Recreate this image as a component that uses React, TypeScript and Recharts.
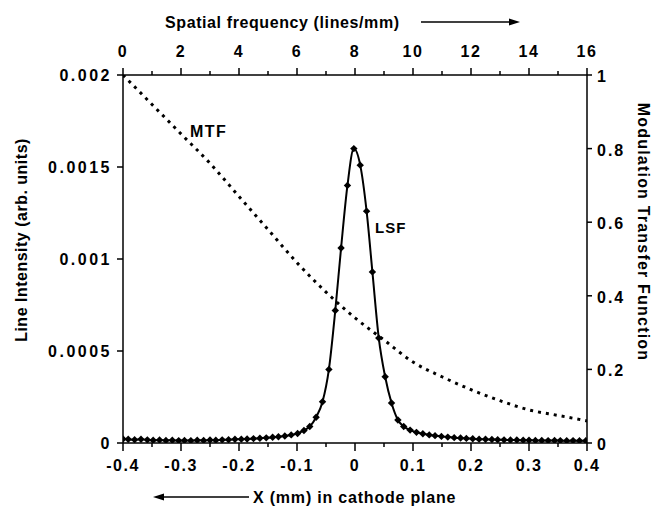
import { ComposedChart, Line, XAxis, YAxis } from 'recharts';

const FONT = '"Liberation Sans", Arial, Helvetica, sans-serif';

// LSF samples: position in cathode plane (mm) and line intensity
const lsfX = [
  -0.4, -0.391, -0.38, -0.369, -0.358, -0.348, -0.337, -0.326, -0.315, -0.304,
  -0.294, -0.283, -0.272, -0.261, -0.25, -0.24, -0.229, -0.218, -0.207, -0.196,
  -0.186, -0.175, -0.164, -0.153, -0.142, -0.132, -0.121, -0.11, -0.099, -0.088,
  -0.078, -0.067, -0.056, -0.045, -0.034, -0.024, -0.013,
  -0.002,
  0.009, 0.02, 0.03, 0.041, 0.052, 0.063, 0.074, 0.084, 0.095,
  0.106, 0.117, 0.128, 0.138, 0.149, 0.16, 0.171, 0.182, 0.192, 0.203,
  0.214, 0.225, 0.236, 0.246, 0.257, 0.268, 0.279, 0.29, 0.3, 0.311,
  0.322, 0.333, 0.344, 0.354, 0.365, 0.376, 0.387, 0.398,
];
const lsfY = [
  0.000022, 0.00002, 0.000018, 0.00002, 0.000017, 0.000015, 0.000016, 0.000014, 0.000015, 0.000013,
  0.000014, 0.000013, 0.000015, 0.000014, 0.000016, 0.000015, 0.000017, 0.000018, 0.00002, 0.000021,
  0.000022, 0.000024, 0.000026, 0.000028, 0.000031, 0.000034, 0.000038, 0.000044, 0.000052, 0.000068,
  0.00009, 0.00014, 0.000224, 0.0004, 0.00072, 0.00106, 0.0014,
  0.0016,
  0.00151, 0.00126, 0.00093, 0.00057, 0.00036, 0.000217, 0.000125, 0.00009, 0.00007,
  0.000058, 0.00005, 0.000044, 0.00004, 0.000036, 0.000032, 0.000029, 0.000027, 0.000025, 0.000023,
  0.000021, 0.00002, 0.000019, 0.000018, 0.000017, 0.000016, 0.000016, 0.000015, 0.000015, 0.000014,
  0.000014, 0.000013, 0.000014, 0.000013, 0.000012, 0.000013, 0.000012, 0.000012,
];

// MTF vs spatial frequency (lines/mm)
const mtfFreq = [0, 1, 2, 3, 4, 5, 6, 7, 8, 9, 10, 11, 12, 13, 14, 15, 16];
const mtfValue = [1, 0.92, 0.84, 0.76, 0.67, 0.58, 0.49, 0.41, 0.34, 0.28, 0.22, 0.18, 0.145, 0.115, 0.09, 0.075, 0.06];

const xTicks = [-0.4, -0.35, -0.3, -0.25, -0.2, -0.15, -0.1, -0.05, 0, 0.05, 0.1, 0.15, 0.2, 0.25, 0.3, 0.35, 0.4];
const freqTicks = [0, 1, 2, 3, 4, 5, 6, 7, 8, 9, 10, 11, 12, 13, 14, 15, 16];
const lsfTicks = [0, 0.0005, 0.001, 0.0015, 0.002];
const mtfTicks = [0, 0.2, 0.4, 0.6, 0.8, 1];

const lsfData = lsfX.map((x, i) => ({ x, lsf: lsfY[i] }));
const mtfData = mtfFreq.map((f, i) => ({ f, mtf: mtfValue[i] }));

const txt = { fontFamily: FONT, fontWeight: 700, fontSize: 16, fill: '#000' } as const;

const BottomTick = ({ x, y, payload }: any) => {
  const v = payload.value;
  const major = Math.abs(v * 10 - Math.round(v * 10)) < 1e-6;
  return (
    <g>
      <line x1={x} x2={x} y1={y} y2={y + (major ? 8 : 4)} stroke="#000" strokeWidth={1.5} />
      {major && (
        <text x={x} y={y + 28} textAnchor="middle" {...txt} letterSpacing={1.5}>
          {String(+v.toFixed(1))}
        </text>
      )}
    </g>
  );
};

const TopTick = ({ x, y, payload }: any) => {
  const v = payload.value;
  const major = v % 2 === 0;
  return (
    <g>
      <line x1={x} x2={x} y1={y} y2={y - (major ? 7 : 4)} stroke="#000" strokeWidth={1.5} />
      {major && (
        <text x={x} y={y - 18} textAnchor="middle" {...txt} letterSpacing={1.5}>
          {String(v)}
        </text>
      )}
    </g>
  );
};

const LeftTick = ({ x, y, payload }: any) => (
  <g>
    <line x1={x - 6} x2={x} y1={y} y2={y} stroke="#000" strokeWidth={1.5} />
    <text x={x - 11} y={y + 6} textAnchor="end" {...txt} letterSpacing={2.5}>
      {String(payload.value)}
    </text>
  </g>
);

const RightTick = ({ x, y, payload }: any) => (
  <g>
    <line x1={x} x2={x + 5} y1={y} y2={y} stroke="#000" strokeWidth={1.5} />
    <text x={x + 10} y={y + 7} textAnchor="start" {...txt} letterSpacing={2}>
      {String(payload.value)}
    </text>
  </g>
);

const Diamond = ({ cx, cy }: any) => {
  if (cx == null || cy == null) return null;
  const r = 3.7;
  return <polygon points={`${cx},${cy - r} ${cx + r},${cy} ${cx},${cy + r} ${cx - r},${cy}`} fill="#000" />;
};

export default function App() {
  return (
    <div style={{ position: 'absolute', left: 0, top: 0, width: 653, height: 508, background: '#fff' }}>
      <ComposedChart width={653} height={508} margin={{ top: 0, right: 0, bottom: 0, left: 0 }}>
        <XAxis
          xAxisId="x"
          dataKey="x"
          type="number"
          domain={[-0.4, 0.4]}
          ticks={xTicks}
          interval={0}
          orientation="bottom"
          height={65}
          tickSize={0}
          tickMargin={0}
          tickLine={false}
          tick={<BottomTick />}
          axisLine={{ stroke: '#000', strokeWidth: 1.5 }}
          allowDataOverflow
        />
        <XAxis
          xAxisId="f"
          dataKey="f"
          type="number"
          domain={[0, 16]}
          ticks={freqTicks}
          interval={0}
          orientation="top"
          height={75}
          tickSize={0}
          tickMargin={0}
          tickLine={false}
          tick={<TopTick />}
          axisLine={{ stroke: '#000', strokeWidth: 1.5 }}
          allowDataOverflow
        />
        <YAxis
          yAxisId="lsf"
          type="number"
          domain={[0, 0.002]}
          ticks={lsfTicks}
          interval={0}
          orientation="left"
          width={123}
          tickSize={0}
          tickMargin={0}
          tickLine={false}
          tick={<LeftTick />}
          axisLine={{ stroke: '#000', strokeWidth: 1.5 }}
          allowDataOverflow
        />
        <YAxis
          yAxisId="mtf"
          type="number"
          domain={[0, 1]}
          ticks={mtfTicks}
          interval={0}
          orientation="right"
          width={66}
          tickSize={0}
          tickMargin={0}
          tickLine={false}
          tick={<RightTick />}
          axisLine={{ stroke: '#000', strokeWidth: 1.5 }}
          allowDataOverflow
        />
        <Line
          data={mtfData}
          xAxisId="f"
          yAxisId="mtf"
          dataKey="mtf"
          type="monotone"
          stroke="#000"
          strokeWidth={3}
          strokeDasharray="3 5"
          dot={false}
          isAnimationActive={false}
        />
        <Line
          data={lsfData}
          xAxisId="x"
          yAxisId="lsf"
          dataKey="lsf"
          type="monotone"
          stroke="#000"
          strokeWidth={2}
          dot={<Diamond />}
          isAnimationActive={false}
        />
        <text x={165} y={28} textAnchor="start" {...txt} letterSpacing={0.6}>
          Spatial frequency (lines/mm)
        </text>
        <line x1={421} y1={22} x2={511} y2={22} stroke="#000" strokeWidth={1.3} />
        <polygon points="520,22 509,18.5 509,25.5" fill="#000" />
        <text x={253} y={503} textAnchor="start" {...txt} letterSpacing={0.8}>
          X (mm) in cathode plane
        </text>
        <line x1={162} y1={497} x2={249} y2={497} stroke="#000" strokeWidth={1.3} />
        <polygon points="153,497 164,493.5 164,500.5" fill="#000" />
        <text transform="translate(27, 240) rotate(-90)" textAnchor="middle" {...txt} letterSpacing={0.5}>
          Line Intensity (arb. units)
        </text>
        <text transform="translate(638, 232) rotate(90)" textAnchor="middle" {...txt} letterSpacing={1.2}>
          Modulation Transfer Function
        </text>
        <text x={190} y={137} {...txt} letterSpacing={1.5}>MTF</text>
        <text x={375} y={233} {...txt} fontSize={15} letterSpacing={1}>LSF</text>
      </ComposedChart>
    </div>
  );
}
